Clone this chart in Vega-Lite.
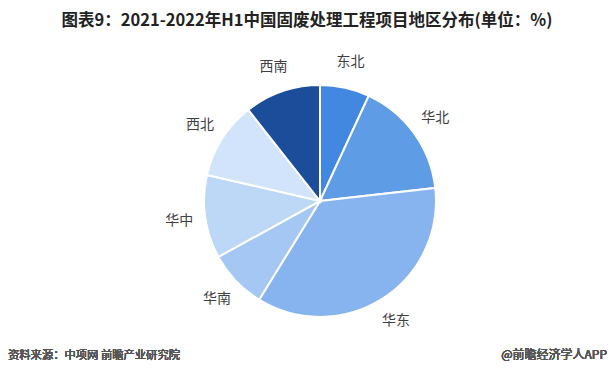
{
  "$schema": "https://vega.github.io/schema/vega-lite/v6.json",
  "autosize": "none",
  "width": 588,
  "height": 366,
  "padding": {"left": 26, "top": 18, "right": 0, "bottom": 0},
  "background": "white",
  "title": {
    "text": "图表9：2021-2022年H1中国固废处理工程项目地区分布(单位：%)",
    "font": "Noto Sans CJK SC",
    "fontSize": 16.5,
    "fontWeight": "bold",
    "color": "#222222",
    "anchor": "middle",
    "frame": "group",
    "baseline": "alphabetic",
    "offset": -24,
    "dx": -13
  },
  "config": {"view": {"stroke": null}},
  "data": {
    "values": [
      {"region": "东北", "value": 6.9, "idx": 1},
      {"region": "华北", "value": 16.3, "idx": 2},
      {"region": "华东", "value": 35.6, "idx": 3},
      {"region": "华南", "value": 8.2, "idx": 4},
      {"region": "华中", "value": 11.6, "idx": 5},
      {"region": "西北", "value": 10.8, "idx": 6},
      {"region": "西南", "value": 10.6, "idx": 7}
    ]
  },
  "layer": [
    {
      "mark": {"type": "arc", "outerRadius": 116, "stroke": "white", "strokeWidth": 2},
      "encoding": {
        "theta": {"field": "value", "type": "quantitative", "stack": true},
        "order": {"field": "idx", "type": "quantitative"},
        "color": {
          "field": "region",
          "type": "nominal",
          "scale": {
            "domain": ["东北", "华北", "华东", "华南", "华中", "西北", "西南"],
            "range": ["#4287e0", "#5f9ce6", "#87b4ef", "#a5c7f3", "#bdd7f7", "#d2e4fb", "#1b4d9b"]
          },
          "legend": null
        }
      }
    },
    {
      "mark": {"type": "text", "radius": 142, "font": "Noto Sans CJK SC", "fontSize": 14, "color": "#404040"},
      "encoding": {
        "theta": {"field": "value", "type": "quantitative", "stack": true},
        "order": {"field": "idx", "type": "quantitative"},
        "text": {"field": "region", "type": "nominal"}
      }
    },
    {
      "mark": {"type": "text", "font": "Noto Sans CJK SC", "fontSize": 11.3, "fontWeight": "normal", "color": "#555555", "align": "left", "baseline": "alphabetic"},
      "encoding": {
        "x": {"value": -18},
        "y": {"value": 341},
        "text": {"datum": "资料来源：中项网 前瞻产业研究院"}
      }
    },
    {
      "mark": {"type": "text", "font": "Noto Sans CJK SC", "fontSize": 12, "fontWeight": "normal", "color": "#555555", "align": "right", "baseline": "alphabetic"},
      "encoding": {
        "x": {"value": 581},
        "y": {"value": 341},
        "text": {"datum": "@前瞻经济学人APP"}
      }
    }
  ]
}
